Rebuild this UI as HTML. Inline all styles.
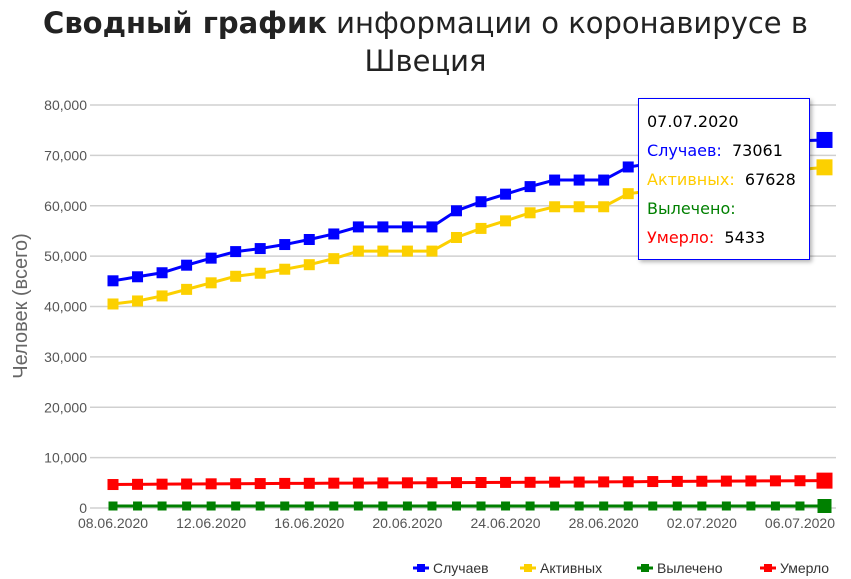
<!DOCTYPE html>
<html><head><meta charset="utf-8">
<style>
body{margin:0;background:#fff;width:851px;height:579px;overflow:hidden;font-family:"Liberation Sans","DejaVu Sans",sans-serif;}
#title{position:absolute;left:0;top:4px;width:851px;text-align:center;font-size:29px;line-height:38px;color:#222;font-family:"DejaVu Sans","Liberation Sans",sans-serif;}
#tip{position:absolute;left:638px;top:98px;width:170px;height:160px;border:1px solid #00f;background:#fff;box-shadow:2px 2px 4px rgba(0,0,0,.3);font-family:"DejaVu Sans",sans-serif;font-size:16px;}
#tip div{position:absolute;left:8px;white-space:nowrap;}
</style></head><body>
<div id="title"><b>Сводный график</b> информации о коронавирусе в<br>Швеция</div>
<svg id="chart" width="851" height="579" style="position:absolute;left:0;top:0"></svg>
<div id="tip">
<div style="top:13px;color:#000">07.07.2020</div>
<div style="top:42px"><span style="color:#00f">Случаев:</span>&nbsp; 73061</div>
<div style="top:71px"><span style="color:#fc0">Активных:</span>&nbsp; 67628</div>
<div style="top:100px;color:green">Вылечено:</div>
<div style="top:129px"><span style="color:red">Умерло:</span>&nbsp; 5433</div>
</div>
<script>
const dates=["08.06.2020","09.06.2020","10.06.2020","11.06.2020","12.06.2020","13.06.2020","14.06.2020","15.06.2020","16.06.2020","17.06.2020","18.06.2020","19.06.2020","20.06.2020","21.06.2020","22.06.2020","23.06.2020","24.06.2020","25.06.2020","26.06.2020","27.06.2020","28.06.2020","29.06.2020","30.06.2020","01.07.2020","02.07.2020","03.07.2020","04.07.2020","05.07.2020","06.07.2020","07.07.2020"];
const cases=[45100,45900,46700,48200,49600,50900,51500,52300,53300,54400,55800,55800,55800,55800,59000,60800,62300,63800,65100,65100,65100,67700,68400,69400,70400,71300,72000,72600,72900,73061];
const active=[40500,41100,42100,43400,44700,46000,46600,47400,48300,49500,51000,51000,51000,51000,53700,55500,57000,58600,59800,59800,59800,62400,63000,63800,64500,65300,66000,66700,67200,67628];
const recovered=[0,0,0,0,0,0,0,0,0,0,0,0,0,0,0,0,0,0,0,0,0,0,0,0,0,0,0,0,0,0];
const deaths=[4660,4700,4730,4760,4800,4820,4850,4880,4900,4930,4950,4980,5000,5020,5040,5060,5080,5100,5130,5150,5180,5210,5250,5280,5310,5340,5370,5390,5410,5433];
const yTicks=[0,10000,20000,30000,40000,50000,60000,70000,80000];
const xLabels=["08.06.2020","12.06.2020","16.06.2020","20.06.2020","24.06.2020","28.06.2020","02.07.2020","06.07.2020"];
const svg=document.getElementById('chart');const NS="http://www.w3.org/2000/svg";
const x=i=>113+i*(824.5-113)/(dates.length-1);
const y=v=>508-v*(508-105)/80000;
function mk(t,a,p){const e=document.createElementNS(NS,t);for(const k in a)e.setAttribute(k,a[k]);(p||svg).appendChild(e);return e;}
yTicks.forEach(v=>{
 const g=mk('line',{x1:90,x2:836,y1:y(v),y2:y(v),stroke:'#d0d0d0','stroke-width':1.5});
 
 
 const t=mk('text',{x:87,y:y(v)+5,'text-anchor':'end','font-size':14,fill:'#555'});t.textContent=v.toLocaleString('en-US');
 
 
});
xLabels.forEach(l=>{const i=dates.indexOf(l);
 const t=mk('text',{x:x(i),y:528,'text-anchor':'middle','font-size':14,fill:'#555'});t.textContent=l;
 
 
});
const yt=mk('text',{x:0,y:0,transform:'translate(27,306) rotate(-90)','text-anchor':'middle','font-size':20,fill:'#666'});yt.textContent='Человек (всего)';


function series(vals,col,name,sz,dy){
 const pl=mk('polyline',{points:vals.map((v,i)=>x(i)+','+(y(v)-dy)).join(' '),fill:'none',stroke:col,'stroke-width':3});
 
 
 vals.forEach((v,i)=>{const s=i==vals.length-1?sz+5:sz;
  const r=mk('rect',{x:x(i)-s/2,y:y(v)-dy-s/2,width:s,height:s,fill:col});
  
  
 });
}
series(recovered,'#008000','recovered',9,2);
series(deaths,'#ff0000','deaths',11,0);
series(active,'#fcd000','active',11,0);
series(cases,'#0000ff','cases',11,0);
const leg=[['Случаев','#00f',413],['Активных','#fcd000',520],['Вылечено','#008000',637],['Умерло','#f00',760]];
leg.forEach(([n,c,lx])=>{
 const g=mk('g',{});
 
 
 mk('line',{x1:lx,x2:lx+16,y1:568,y2:568,stroke:c,'stroke-width':3},g);
 mk('rect',{x:lx+4,y:564,width:8,height:8,fill:c},g);
 const t=mk('text',{x:lx+20,y:573,'font-size':14,fill:'#333'},g);t.textContent=n;
});
</script>
</body></html>
